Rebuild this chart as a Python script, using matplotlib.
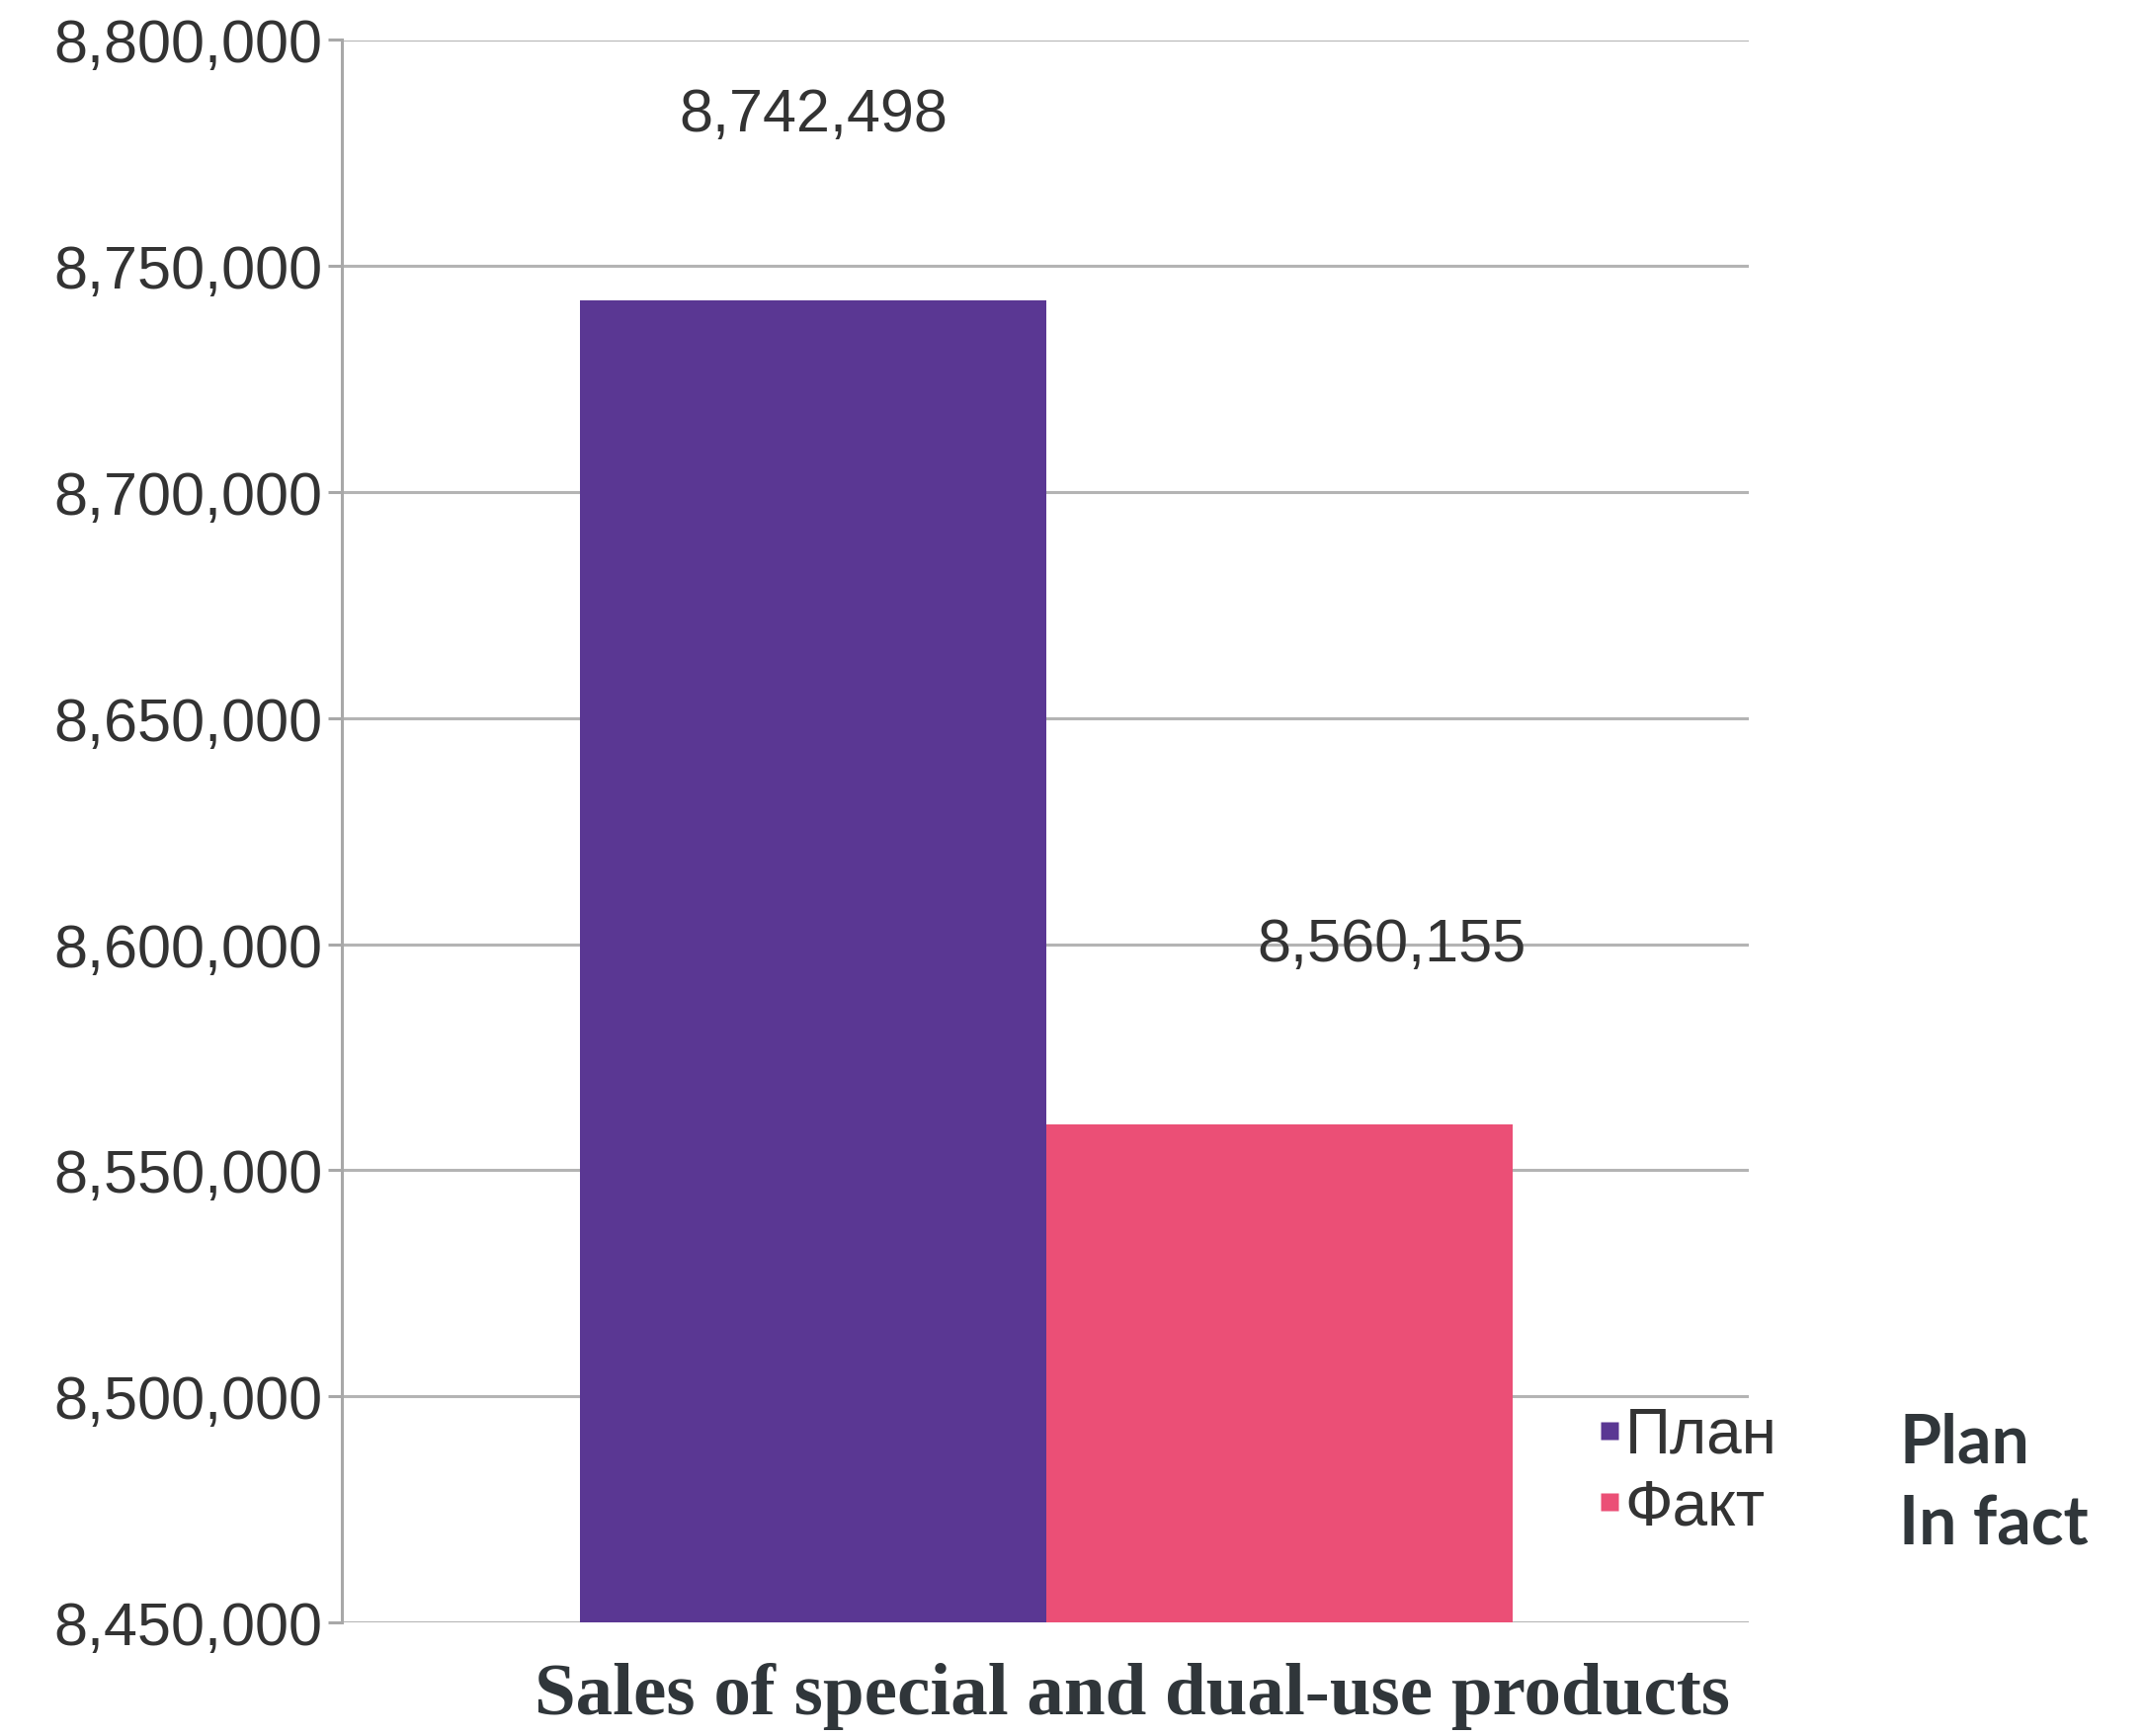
import matplotlib
matplotlib.use("Agg")
import matplotlib.pyplot as plt
from matplotlib.lines import Line2D
from matplotlib.ticker import FuncFormatter

categories = ["План", "Факт"]
english_labels = ["Plan", "In fact"]
values = [8742498, 8560155]
colors = ["#5a3793", "#eb4f76"]
yticks = [8450000, 8500000, 8550000, 8600000, 8650000, 8700000, 8750000, 8800000]
title = "Sales of special and dual-use products"

W, H = 2171, 1758
fig = plt.figure(figsize=(W / 100, H / 100), dpi=100)
ax = fig.add_axes([346 / W, 1 - 1643 / H, (1770 - 346) / W, (1643 - 41.5) / H])

xs = [0, 1]
ax.bar(xs, values, width=1.0, color=colors, zorder=3, edgecolor="none")
ax.set_xlim(-1.0106, 2.006)
ax.set_ylim(8450000, 8800000)
ax.set_yticks(yticks)
ax.yaxis.set_major_formatter(FuncFormatter(lambda v, p: f"{int(v):,}"))
ax.set_xticks([])

ax.grid(axis="y", color="#b4b4b4", linewidth=2.2, zorder=0)
for s in ["top", "right", "bottom"]:
    ax.spines[s].set_visible(False)
ax.spines["left"].set_color("#a8a8a8")
ax.spines["left"].set_linewidth(2.2)
ax.tick_params(axis="y", length=10, width=2.2, color="#a8a8a8", pad=4,
               labelsize=44, labelcolor="#333333")
for lab in ax.get_yticklabels():
    lab.set_fontfamily("Liberation Sans")

offsets = [(0, 135), (82, 131)]
for x, v, off in zip(xs, values, offsets):
    ax.annotate(f"{v:,}", xy=(x, v), xytext=(off[0] * 1.3846 * 0.72, off[1] * 1.3846 * 0.72),
                textcoords="offset points", ha="center", va="center",
                fontsize=44, color="#333333", family="Liberation Sans")

handles = [Line2D([], [], linestyle="none", marker="s", markersize=13,
                  markerfacecolor=c, markeredgecolor="none") for c in colors]
leg = fig.legend(handles, categories, loc="upper left",
                 bbox_to_anchor=(1584 / W, 1 - 1392 / H), frameon=False,
                 handlelength=0.4, handletextpad=0.05, labelspacing=0.2, borderpad=0,
                 prop={"family": "Liberation Sans", "size": 46})
for t in leg.get_texts():
    t.set_color("#333333")

fig.text(1922 / W, 1 - 1461 / H, english_labels[0], fontsize=49, fontweight="bold",
         family="Lato", color="#30363a", va="center", ha="left")
fig.text(1922 / W, 1 - 1544 / H, english_labels[1], fontsize=49, fontweight="bold",
         family="Lato", color="#30363a", va="center", ha="left")

fig.text(1146 / W, 1 - 1717 / H, title, fontsize=54, fontweight="bold",
         family="Liberation Serif", color="#30363a", va="center", ha="center")

fig.savefig("out.png", dpi=100, facecolor="white")
